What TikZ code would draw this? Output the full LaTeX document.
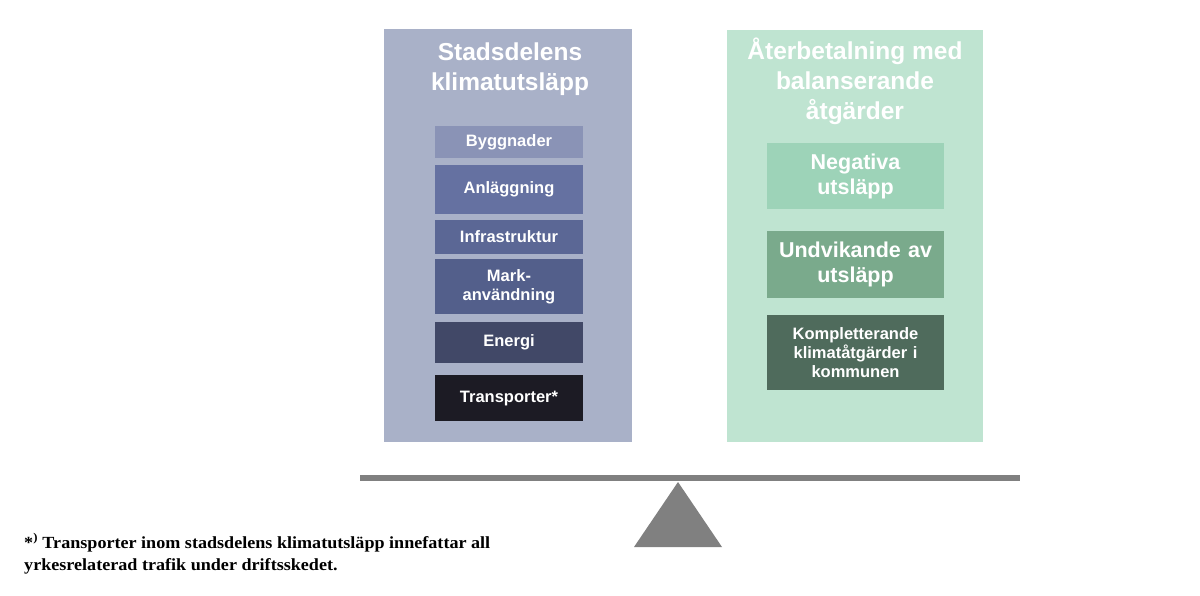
\documentclass[tikz,border=0pt]{standalone}
\usepackage{fontspec}
\setmainfont{Liberation Serif}
\setsansfont{Liberation Sans}
\usetikzlibrary{positioning}
\definecolor{panelbla}{HTML}{A9B1C8}
\definecolor{panelgron}{HTML}{BFE4D1}
\definecolor{bygg}{HTML}{8A93B6}
\definecolor{anlagg}{HTML}{6571A1}
\definecolor{infra}{HTML}{5B6795}
\definecolor{mark}{HTML}{535F8B}
\definecolor{energi}{HTML}{414867}
\definecolor{transp}{HTML}{1C1B24}
\definecolor{negativ}{HTML}{9DD3B8}
\definecolor{undvik}{HTML}{7AAA8C}
\definecolor{komplett}{HTML}{4F6B5C}
\definecolor{vagrgra}{HTML}{808080}

\begin{document}
\begin{tikzpicture}[
  x=1pt, y=-1pt,
  node distance=6pt,
  panel/.style={
    rectangle, anchor=north west, inner sep=0pt
  },
  rubrik/.style={
    text=white, align=center,
    font=\sffamily\bfseries\fontsize{24.5}{30}\selectfont
  },
  kalla/.style={
    rectangle, inner sep=0pt, text=white, align=center,
    text width=148pt,
    font=\sffamily\bfseries\fontsize{16.5}{19.5}\selectfont
  },
  sanka/.style={
    rectangle, inner sep=0pt, text=white, align=center,
    text width=177pt
  }
]
  \useasboundingbox[fill=white] (0,0) rectangle (1200,595);

  % de två skålarna
  \node[panel, fill=panelbla, minimum width=248pt, minimum height=413pt] (utslapp) at (384,29) {};
  \node[panel, fill=panelgron, minimum width=256pt, minimum height=412pt] (balans) at (727,30) {};
  \node[rubrik] (rubrikv) at (510,69) {Stadsdelens\\klimatutsläpp};
  \node[rubrik] (rubrikh) at (855,81) {Återbetalning med\\balanserande\\åtgärder};

  % utsläppskällor
  \node[kalla, fill=bygg, minimum height=32pt, anchor=north] (k1) at (509,126) {Byggnader};
  \node[kalla, fill=anlagg, minimum height=49pt, below=of k1] (k2) {Anläggning};
  \node[kalla, fill=infra, minimum height=34pt, below=of k2] (k3) {Infrastruktur};
  \node[kalla, fill=mark, minimum height=55pt, below=5pt of k3] (k4) {Mark-\\användning};
  \node[kalla, fill=energi, minimum height=41pt, below=7pt of k4] (k5) {Energi};
  \node[kalla, fill=transp, minimum height=46pt, below=12pt of k5] (k6) {Transporter*};

  % balanserande åtgärder
  \node[sanka, fill=negativ, minimum height=66pt, anchor=north,
        font=\sffamily\bfseries\fontsize{21.5}{25}\selectfont] (s1) at (855.5,143) {Negativa\\utsläpp};
  \node[sanka, fill=undvik, minimum height=67pt, below=21pt of s1,
        font=\sffamily\bfseries\fontsize{21.5}{25}\selectfont] (s2) {Undvikande av\\utsläpp};
  \node[sanka, fill=komplett, minimum height=75pt, below=17pt of s2,
        font=\sffamily\bfseries\fontsize{16.5}{19}\selectfont] (s3) {Kompletterande\\klimatåtgärder i\\kommunen};

  % våg
  \coordinate (bomv) at (360,478);
  \coordinate (bomh) at (1020,478);
  \coordinate (topp) at (678,482);
  \draw[vagrgra, line width=6pt] (bomv) -- (bomh);
  \fill[vagrgra] (topp) -- (722,547) -- (634,547) -- cycle;

  % fotnot
  \node[anchor=base west, align=left, inner sep=0pt,
        font=\bfseries\addfontfeature{FakeStretch=1.065}\fontsize{17}{22.5}\selectfont] (fotnot) at (24,570.5)
    {*\textsuperscript{)} Transporter inom stadsdelens klimatutsläpp innefattar all\\yrkesrelaterad trafik under driftsskedet.};
\end{tikzpicture}
\end{document}
